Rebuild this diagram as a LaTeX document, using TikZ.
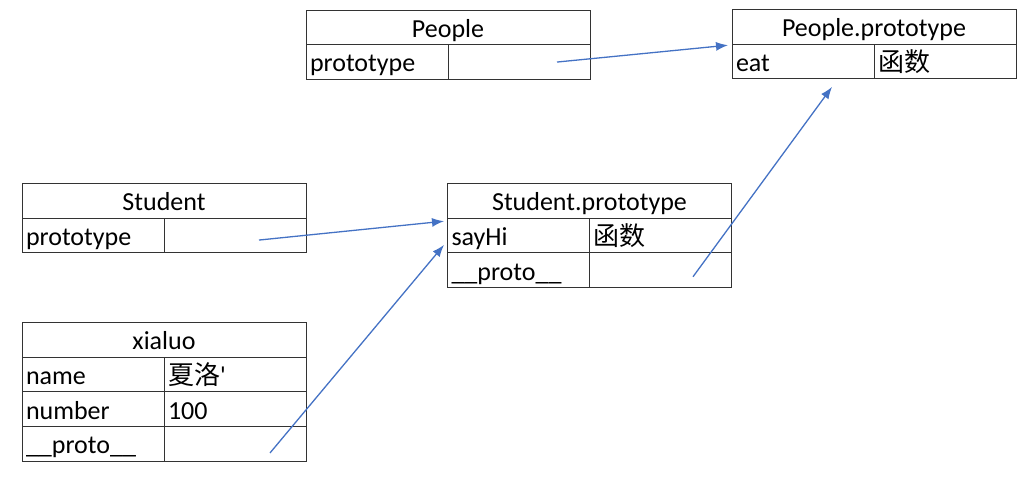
\documentclass[tikz,border=0pt]{standalone}
\usepackage{fontspec}
\setmainfont{Carlito}
\newfontfamily\cjk{Noto Sans CJK SC}
\usetikzlibrary{positioning, arrows.meta}
\definecolor{ptrblue}{HTML}{4472C4}
\tikzset{
  cell/.style={draw=black!80, line width=1pt, minimum height=34.7pt,
    inner sep=0pt, outer sep=0pt, text height=19.5pt, text depth=0pt,
    font=\fontsize{26}{30}\selectfont},
  tabhead/.style={cell, minimum width=284pt},
  tabkey/.style={cell, minimum width=142pt, text width=134pt, align=left},
  tabval/.style={tabkey},
  ptr/.style={draw=ptrblue, line width=1.3pt, -{Latex[length=12pt, width=9pt]}}
}

\begin{document}
\begin{tikzpicture}[x=1pt, y=-1pt]
  \useasboundingbox (0,0) rectangle (1033,477);
  % People
  \node[tabhead, anchor=north west] (pHead) at (306,10) {People};
  \node[tabkey, below right=0pt of pHead.south west] (pKey) {prototype};
  \node[tabval, right=0pt of pKey] (pVal) {};
  % People.prototype
  \node[tabhead, anchor=north west] (ppHead) at (732,9.5) {People.prototype};
  \node[tabkey, below right=0pt of ppHead.south west] (ppKey) {eat};
  \node[tabval, right=0pt of ppKey] (ppVal) {\cjk 函数};
  % Student
  \node[tabhead, anchor=north west] (sHead) at (22,183.5) {Student};
  \node[tabkey, below right=0pt of sHead.south west] (sKey) {prototype};
  \node[tabval, right=0pt of sKey] (sVal) {};
  % Student.prototype
  \node[tabhead, anchor=north west] (spHead) at (447.5,183.5) {Student.prototype};
  \node[tabkey, below right=0pt of spHead.south west] (spHiKey) {sayHi};
  \node[tabval, right=0pt of spHiKey] (spHiVal) {\cjk 函数};
  \node[tabkey, below=0pt of spHiKey] (spProtoKey) {\_\_proto\_\_};
  \node[tabval, right=0pt of spProtoKey] (spProtoVal) {};
  % xialuo
  \node[tabhead, anchor=north west] (xHead) at (22,322.5) {xialuo};
  \node[tabkey, below right=0pt of xHead.south west] (xNameKey) {name};
  \node[tabval, right=0pt of xNameKey] (xNameVal) {{\cjk 夏洛}\textquotesingle};
  \node[tabkey, below=0pt of xNameKey] (xNumKey) {number};
  \node[tabval, right=0pt of xNumKey] (xNumVal) {100};
  \node[tabkey, below=0pt of xNumKey] (xProtoKey) {\_\_proto\_\_};
  \node[tabval, right=0pt of xProtoKey] (xProtoVal) {};

  % prototype links
  \draw[ptr] ([xshift=38pt]pVal.center) -- ([xshift=-4pt,yshift=-1pt]ppHead.south west);
  \draw[ptr] ([xshift=24pt,yshift=-4.5pt]sVal.center) -- ([xshift=-3.5pt,yshift=-3pt]spHead.south west);
  \draw[ptr] ([xshift=35pt,yshift=-9pt]xProtoVal.center) -- ([xshift=-3.5pt,yshift=8pt]spHiKey.south west);
  \draw[ptr] ([xshift=32.5pt,yshift=-6.5pt]spProtoVal.center) -- ([xshift=29pt,yshift=-8pt]ppKey.south);
\end{tikzpicture}
\end{document}
